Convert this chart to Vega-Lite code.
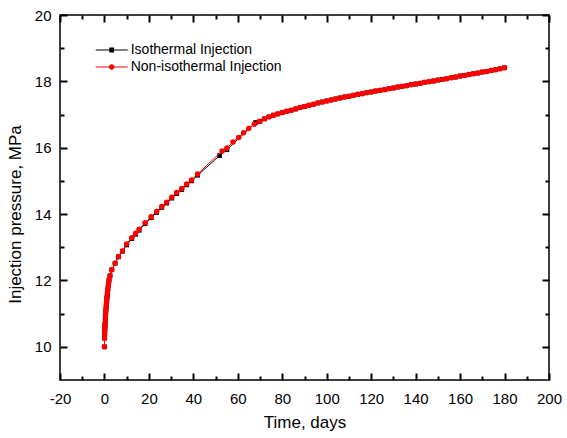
{
"$schema":"https://vega.github.io/schema/vega-lite/v6.json",
"width":489,"height":365,
"autosize":{"type":"none"},
"padding":{"left":60,"top":15,"right":18,"bottom":58},
"background":"white",
"config":{"view":{"stroke":"black","strokeWidth":1.5},"font":"Liberation Sans"},
"data":{"values":[
{"series":"Isothermal Injection","time":0,"pressure":10.00},
{"series":"Isothermal Injection","time":0.05,"pressure":10.26},
{"series":"Isothermal Injection","time":0.1,"pressure":10.38},
{"series":"Isothermal Injection","time":0.15,"pressure":10.48},
{"series":"Isothermal Injection","time":0.2,"pressure":10.57},
{"series":"Isothermal Injection","time":0.25,"pressure":10.65},
{"series":"Isothermal Injection","time":0.3,"pressure":10.72},
{"series":"Isothermal Injection","time":0.4,"pressure":10.84},
{"series":"Isothermal Injection","time":0.5,"pressure":10.95},
{"series":"Isothermal Injection","time":0.6,"pressure":11.05},
{"series":"Isothermal Injection","time":0.7,"pressure":11.14},
{"series":"Isothermal Injection","time":0.8,"pressure":11.23},
{"series":"Isothermal Injection","time":0.9,"pressure":11.31},
{"series":"Isothermal Injection","time":1.0,"pressure":11.39},
{"series":"Isothermal Injection","time":1.1,"pressure":11.46},
{"series":"Isothermal Injection","time":1.2,"pressure":11.53},
{"series":"Isothermal Injection","time":1.35,"pressure":11.63},
{"series":"Isothermal Injection","time":1.5,"pressure":11.72},
{"series":"Isothermal Injection","time":1.7,"pressure":11.83},
{"series":"Isothermal Injection","time":1.9,"pressure":11.93},
{"series":"Isothermal Injection","time":2.1,"pressure":12.02},
{"series":"Isothermal Injection","time":2.5,"pressure":12.14},
{"series":"Isothermal Injection","time":3.3,"pressure":12.32},
{"series":"Isothermal Injection","time":4.8,"pressure":12.52},
{"series":"Isothermal Injection","time":6.3,"pressure":12.71},
{"series":"Isothermal Injection","time":8.1,"pressure":12.88},
{"series":"Isothermal Injection","time":10.0,"pressure":13.07},
{"series":"Isothermal Injection","time":12.3,"pressure":13.26},
{"series":"Isothermal Injection","time":14.0,"pressure":13.39},
{"series":"Isothermal Injection","time":15.6,"pressure":13.51},
{"series":"Isothermal Injection","time":18.3,"pressure":13.71},
{"series":"Isothermal Injection","time":21.0,"pressure":13.89},
{"series":"Isothermal Injection","time":23.5,"pressure":14.05},
{"series":"Isothermal Injection","time":25.8,"pressure":14.20},
{"series":"Isothermal Injection","time":28.0,"pressure":14.33},
{"series":"Isothermal Injection","time":30.3,"pressure":14.48},
{"series":"Isothermal Injection","time":32.5,"pressure":14.62},
{"series":"Isothermal Injection","time":34.8,"pressure":14.74},
{"series":"Isothermal Injection","time":37.0,"pressure":14.88},
{"series":"Isothermal Injection","time":39.2,"pressure":15.00},
{"series":"Isothermal Injection","time":41.9,"pressure":15.17},
{"series":"Isothermal Injection","time":51.8,"pressure":15.76},
{"series":"Isothermal Injection","time":55.1,"pressure":15.94},
{"series":"Isothermal Injection","time":68.0,"pressure":16.76},
{"series":"Isothermal Injection","time":70,"pressure":16.80},
{"series":"Isothermal Injection","time":72,"pressure":16.87},
{"series":"Isothermal Injection","time":74,"pressure":16.93},
{"series":"Isothermal Injection","time":76,"pressure":16.98},
{"series":"Isothermal Injection","time":78,"pressure":17.02},
{"series":"Isothermal Injection","time":80,"pressure":17.06},
{"series":"Isothermal Injection","time":82,"pressure":17.10},
{"series":"Isothermal Injection","time":84,"pressure":17.13},
{"series":"Isothermal Injection","time":86,"pressure":17.17},
{"series":"Isothermal Injection","time":88,"pressure":17.21},
{"series":"Isothermal Injection","time":90,"pressure":17.24},
{"series":"Isothermal Injection","time":92,"pressure":17.28},
{"series":"Isothermal Injection","time":94,"pressure":17.31},
{"series":"Isothermal Injection","time":96,"pressure":17.35},
{"series":"Isothermal Injection","time":98,"pressure":17.38},
{"series":"Isothermal Injection","time":100,"pressure":17.41},
{"series":"Isothermal Injection","time":102,"pressure":17.44},
{"series":"Isothermal Injection","time":104,"pressure":17.47},
{"series":"Isothermal Injection","time":106,"pressure":17.50},
{"series":"Isothermal Injection","time":108,"pressure":17.53},
{"series":"Isothermal Injection","time":110,"pressure":17.55},
{"series":"Isothermal Injection","time":112,"pressure":17.58},
{"series":"Isothermal Injection","time":114,"pressure":17.61},
{"series":"Isothermal Injection","time":116,"pressure":17.63},
{"series":"Isothermal Injection","time":118,"pressure":17.66},
{"series":"Isothermal Injection","time":120,"pressure":17.68},
{"series":"Isothermal Injection","time":122,"pressure":17.71},
{"series":"Isothermal Injection","time":124,"pressure":17.73},
{"series":"Isothermal Injection","time":126,"pressure":17.75},
{"series":"Isothermal Injection","time":128,"pressure":17.78},
{"series":"Isothermal Injection","time":130,"pressure":17.80},
{"series":"Isothermal Injection","time":132,"pressure":17.83},
{"series":"Isothermal Injection","time":134,"pressure":17.85},
{"series":"Isothermal Injection","time":136,"pressure":17.87},
{"series":"Isothermal Injection","time":138,"pressure":17.90},
{"series":"Isothermal Injection","time":140,"pressure":17.92},
{"series":"Isothermal Injection","time":142,"pressure":17.94},
{"series":"Isothermal Injection","time":144,"pressure":17.97},
{"series":"Isothermal Injection","time":146,"pressure":17.99},
{"series":"Isothermal Injection","time":148,"pressure":18.01},
{"series":"Isothermal Injection","time":150,"pressure":18.04},
{"series":"Isothermal Injection","time":152,"pressure":18.06},
{"series":"Isothermal Injection","time":154,"pressure":18.08},
{"series":"Isothermal Injection","time":156,"pressure":18.11},
{"series":"Isothermal Injection","time":158,"pressure":18.13},
{"series":"Isothermal Injection","time":160,"pressure":18.16},
{"series":"Isothermal Injection","time":162,"pressure":18.18},
{"series":"Isothermal Injection","time":164,"pressure":18.21},
{"series":"Isothermal Injection","time":166,"pressure":18.23},
{"series":"Isothermal Injection","time":168,"pressure":18.25},
{"series":"Isothermal Injection","time":170,"pressure":18.28},
{"series":"Isothermal Injection","time":172,"pressure":18.30},
{"series":"Isothermal Injection","time":174,"pressure":18.33},
{"series":"Isothermal Injection","time":176,"pressure":18.35},
{"series":"Isothermal Injection","time":178,"pressure":18.38},
{"series":"Isothermal Injection","time":180,"pressure":18.41},
{"series":"Non-isothermal Injection","time":0,"pressure":10.00},
{"series":"Non-isothermal Injection","time":0.05,"pressure":10.26},
{"series":"Non-isothermal Injection","time":0.1,"pressure":10.38},
{"series":"Non-isothermal Injection","time":0.15,"pressure":10.48},
{"series":"Non-isothermal Injection","time":0.2,"pressure":10.57},
{"series":"Non-isothermal Injection","time":0.25,"pressure":10.65},
{"series":"Non-isothermal Injection","time":0.3,"pressure":10.72},
{"series":"Non-isothermal Injection","time":0.4,"pressure":10.84},
{"series":"Non-isothermal Injection","time":0.5,"pressure":10.95},
{"series":"Non-isothermal Injection","time":0.6,"pressure":11.05},
{"series":"Non-isothermal Injection","time":0.7,"pressure":11.14},
{"series":"Non-isothermal Injection","time":0.8,"pressure":11.23},
{"series":"Non-isothermal Injection","time":0.9,"pressure":11.31},
{"series":"Non-isothermal Injection","time":1.0,"pressure":11.39},
{"series":"Non-isothermal Injection","time":1.1,"pressure":11.46},
{"series":"Non-isothermal Injection","time":1.2,"pressure":11.53},
{"series":"Non-isothermal Injection","time":1.35,"pressure":11.63},
{"series":"Non-isothermal Injection","time":1.5,"pressure":11.72},
{"series":"Non-isothermal Injection","time":1.7,"pressure":11.83},
{"series":"Non-isothermal Injection","time":1.9,"pressure":11.93},
{"series":"Non-isothermal Injection","time":2.1,"pressure":12.02},
{"series":"Non-isothermal Injection","time":2.5,"pressure":12.14},
{"series":"Non-isothermal Injection","time":3.3,"pressure":12.32},
{"series":"Non-isothermal Injection","time":4.8,"pressure":12.52},
{"series":"Non-isothermal Injection","time":6.3,"pressure":12.72},
{"series":"Non-isothermal Injection","time":8.1,"pressure":12.89},
{"series":"Non-isothermal Injection","time":10.0,"pressure":13.10},
{"series":"Non-isothermal Injection","time":12.3,"pressure":13.29},
{"series":"Non-isothermal Injection","time":14.0,"pressure":13.42},
{"series":"Non-isothermal Injection","time":15.6,"pressure":13.54},
{"series":"Non-isothermal Injection","time":18.3,"pressure":13.74},
{"series":"Non-isothermal Injection","time":21.0,"pressure":13.92},
{"series":"Non-isothermal Injection","time":23.5,"pressure":14.08},
{"series":"Non-isothermal Injection","time":25.8,"pressure":14.23},
{"series":"Non-isothermal Injection","time":28.0,"pressure":14.36},
{"series":"Non-isothermal Injection","time":30.3,"pressure":14.51},
{"series":"Non-isothermal Injection","time":32.5,"pressure":14.65},
{"series":"Non-isothermal Injection","time":34.8,"pressure":14.77},
{"series":"Non-isothermal Injection","time":37.0,"pressure":14.91},
{"series":"Non-isothermal Injection","time":39.2,"pressure":15.03},
{"series":"Non-isothermal Injection","time":41.9,"pressure":15.21},
{"series":"Non-isothermal Injection","time":52.9,"pressure":15.90},
{"series":"Non-isothermal Injection","time":55.1,"pressure":15.99},
{"series":"Non-isothermal Injection","time":57.8,"pressure":16.17},
{"series":"Non-isothermal Injection","time":60.4,"pressure":16.31},
{"series":"Non-isothermal Injection","time":62.6,"pressure":16.45},
{"series":"Non-isothermal Injection","time":64.9,"pressure":16.58},
{"series":"Non-isothermal Injection","time":67.4,"pressure":16.71},
{"series":"Non-isothermal Injection","time":69.7,"pressure":16.79},
{"series":"Non-isothermal Injection","time":72,"pressure":16.87},
{"series":"Non-isothermal Injection","time":74,"pressure":16.93},
{"series":"Non-isothermal Injection","time":76,"pressure":16.98},
{"series":"Non-isothermal Injection","time":78,"pressure":17.02},
{"series":"Non-isothermal Injection","time":80,"pressure":17.06},
{"series":"Non-isothermal Injection","time":82,"pressure":17.10},
{"series":"Non-isothermal Injection","time":84,"pressure":17.13},
{"series":"Non-isothermal Injection","time":86,"pressure":17.17},
{"series":"Non-isothermal Injection","time":88,"pressure":17.21},
{"series":"Non-isothermal Injection","time":90,"pressure":17.24},
{"series":"Non-isothermal Injection","time":92,"pressure":17.28},
{"series":"Non-isothermal Injection","time":94,"pressure":17.31},
{"series":"Non-isothermal Injection","time":96,"pressure":17.35},
{"series":"Non-isothermal Injection","time":98,"pressure":17.38},
{"series":"Non-isothermal Injection","time":100,"pressure":17.41},
{"series":"Non-isothermal Injection","time":102,"pressure":17.44},
{"series":"Non-isothermal Injection","time":104,"pressure":17.47},
{"series":"Non-isothermal Injection","time":106,"pressure":17.50},
{"series":"Non-isothermal Injection","time":108,"pressure":17.53},
{"series":"Non-isothermal Injection","time":110,"pressure":17.55},
{"series":"Non-isothermal Injection","time":112,"pressure":17.58},
{"series":"Non-isothermal Injection","time":114,"pressure":17.61},
{"series":"Non-isothermal Injection","time":116,"pressure":17.63},
{"series":"Non-isothermal Injection","time":118,"pressure":17.66},
{"series":"Non-isothermal Injection","time":120,"pressure":17.68},
{"series":"Non-isothermal Injection","time":122,"pressure":17.71},
{"series":"Non-isothermal Injection","time":124,"pressure":17.73},
{"series":"Non-isothermal Injection","time":126,"pressure":17.75},
{"series":"Non-isothermal Injection","time":128,"pressure":17.78},
{"series":"Non-isothermal Injection","time":130,"pressure":17.80},
{"series":"Non-isothermal Injection","time":132,"pressure":17.83},
{"series":"Non-isothermal Injection","time":134,"pressure":17.85},
{"series":"Non-isothermal Injection","time":136,"pressure":17.87},
{"series":"Non-isothermal Injection","time":138,"pressure":17.90},
{"series":"Non-isothermal Injection","time":140,"pressure":17.92},
{"series":"Non-isothermal Injection","time":142,"pressure":17.94},
{"series":"Non-isothermal Injection","time":144,"pressure":17.97},
{"series":"Non-isothermal Injection","time":146,"pressure":17.99},
{"series":"Non-isothermal Injection","time":148,"pressure":18.01},
{"series":"Non-isothermal Injection","time":150,"pressure":18.04},
{"series":"Non-isothermal Injection","time":152,"pressure":18.06},
{"series":"Non-isothermal Injection","time":154,"pressure":18.08},
{"series":"Non-isothermal Injection","time":156,"pressure":18.11},
{"series":"Non-isothermal Injection","time":158,"pressure":18.13},
{"series":"Non-isothermal Injection","time":160,"pressure":18.16},
{"series":"Non-isothermal Injection","time":162,"pressure":18.18},
{"series":"Non-isothermal Injection","time":164,"pressure":18.21},
{"series":"Non-isothermal Injection","time":166,"pressure":18.23},
{"series":"Non-isothermal Injection","time":168,"pressure":18.25},
{"series":"Non-isothermal Injection","time":170,"pressure":18.28},
{"series":"Non-isothermal Injection","time":172,"pressure":18.30},
{"series":"Non-isothermal Injection","time":174,"pressure":18.33},
{"series":"Non-isothermal Injection","time":176,"pressure":18.35},
{"series":"Non-isothermal Injection","time":178,"pressure":18.38},
{"series":"Non-isothermal Injection","time":180,"pressure":18.41}
]},
"layer":[
{
"transform":[{"filter":"datum.series === 'Isothermal Injection'"}],
"mark":{"type":"line","color":"black","strokeWidth":1},
"encoding":{
"x":{"field":"time","type":"quantitative","scale":{"domain":[-20,200],"nice":false,"zero":false},
"axis":{"orient":"bottom","values":[-20,0,20,40,60,80,100,120,140,160,180,200],
"labelExpr":"datum.value + ''","ticks":false,"domain":false,"grid":false,
"labelFont":"Liberation Sans","labelFontSize":15,"labelColor":"black","labelPadding":11,"labelFlush":false,"labelOverlap":false,
"title":"Time, days","titleFont":"Liberation Sans","titleFontSize":17,"titleFontWeight":"normal","titleColor":"black","titleY":47,"titleBaseline":"alphabetic"}},
"y":{"field":"pressure","type":"quantitative","scale":{"domain":[9,20],"nice":false,"zero":false},
"axis":{"orient":"left","values":[10,12,14,16,18,20],"ticks":false,"domain":false,"grid":false,
"labelFont":"Liberation Sans","labelFontSize":15,"labelColor":"black","labelPadding":9,"labelFlush":false,"labelOverlap":false,
"title":"Injection pressure, MPa","titleFont":"Liberation Sans","titleFontSize":17,"titleFontWeight":"normal","titleColor":"black",
"titleX":-40,"titleY":199,"titleAngle":-90,"titleAlign":"center","titleBaseline":"alphabetic"}}
}
},
{
"transform":[{"filter":"datum.series === 'Isothermal Injection'"}],
"mark":{"type":"point","shape":"square","filled":true,"color":"black","size":22,"opacity":1},
"encoding":{
"x":{"field":"time","type":"quantitative","scale":{"domain":[-20,200],"nice":false,"zero":false},
"axis":{"orient":"bottom","values":[-20,0,20,40,60,80,100,120,140,160,180,200],"labels":false,
"ticks":true,"tickSize":7,"offset":-7,"tickColor":"black","tickWidth":2,"domain":false,"grid":false,"title":null}},
"y":{"field":"pressure","type":"quantitative","scale":{"domain":[9,20],"nice":false,"zero":false},
"axis":{"orient":"left","values":[10,12,14,16,18,20],"labels":false,
"ticks":true,"tickSize":7,"offset":-7,"tickColor":"black","tickWidth":2,"domain":false,"grid":false,"title":null}}
}
},
{
"transform":[{"filter":"datum.series === 'Non-isothermal Injection'"}],
"mark":{"type":"line","color":"red","strokeWidth":1},
"encoding":{
"x":{"field":"time","type":"quantitative","scale":{"domain":[-20,200],"nice":false,"zero":false},
"axis":{"orient":"bottom","values":[-10,10,30,50,70,90,110,130,150,170,190],"labels":false,
"ticks":true,"tickSize":4,"offset":-4,"tickColor":"black","tickWidth":2,"domain":false,"grid":false,"title":null}},
"y":{"field":"pressure","type":"quantitative","scale":{"domain":[9,20],"nice":false,"zero":false},
"axis":{"orient":"left","values":[11,13,15,17,19],"labels":false,
"ticks":true,"tickSize":4,"offset":-4,"tickColor":"black","tickWidth":2,"domain":false,"grid":false,"title":null}}
}
},
{
"transform":[{"filter":"datum.series === 'Non-isothermal Injection'"}],
"mark":{"type":"point","shape":"circle","filled":true,"color":"red","size":30,"opacity":1},
"encoding":{
"x":{"field":"time","type":"quantitative","scale":{"domain":[-20,200],"nice":false,"zero":false},
"axis":{"orient":"top","values":[-20,0,20,40,60,80,100,120,140,160,180,200],"labels":false,
"ticks":true,"tickSize":7,"offset":-7,"tickColor":"black","tickWidth":2,"domain":false,"grid":false,"title":null}},
"y":{"field":"pressure","type":"quantitative","scale":{"domain":[9,20],"nice":false,"zero":false},
"axis":{"orient":"right","values":[10,12,14,16,18,20],"labels":false,
"ticks":true,"tickSize":7,"offset":-7,"tickColor":"black","tickWidth":2,"domain":false,"grid":false,"title":null}}
}
},
{
"mark":{"type":"point","filled":true,"opacity":0},
"encoding":{
"x":{"field":"time","type":"quantitative","scale":{"domain":[-20,200],"nice":false,"zero":false},
"axis":{"orient":"top","values":[-10,10,30,50,70,90,110,130,150,170,190],"labels":false,
"ticks":true,"tickSize":4,"offset":-4,"tickColor":"black","tickWidth":2,"domain":false,"grid":false,"title":null}},
"y":{"field":"pressure","type":"quantitative","scale":{"domain":[9,20],"nice":false,"zero":false},
"axis":{"orient":"right","values":[11,13,15,17,19],"labels":false,
"ticks":true,"tickSize":4,"offset":-4,"tickColor":"black","tickWidth":2,"domain":false,"grid":false,"title":null}},
"color":{"field":"series","type":"nominal","scale":{"domain":["Isothermal Injection","Non-isothermal Injection"],"range":["black","red"]},
"legend":{"title":null,"orient":"none","legendX":44.7,"legendY":28,"padding":0,"symbolSize":114,"symbolOpacity":1,"labelOffset":12,"rowPadding":3,"labelFont":"Liberation Sans","labelFontSize":14,"labelColor":"black","symbolStrokeWidth":0}},
"shape":{"field":"series","type":"nominal","scale":{"domain":["Isothermal Injection","Non-isothermal Injection"],"range":["M-3,-0.09H-0.45V-0.45H0.45V-0.09H3V0.09H0.45V0.45H-0.45V0.09H-3Z","M-3,-0.09H3V0.09H-3ZM0.52,0A0.52,0.52,0,1,1,-0.52,0A0.52,0.52,0,1,1,0.52,0Z"]},
"legend":{"title":null,"orient":"none","legendX":44.7,"legendY":28,"padding":0,"symbolSize":114,"symbolOpacity":1,"labelOffset":12,"rowPadding":3,"labelFont":"Liberation Sans","labelFontSize":14,"labelColor":"black","symbolStrokeWidth":0}}
}
}
],
"resolve":{"axis":{"x":"independent","y":"independent"}}
}
